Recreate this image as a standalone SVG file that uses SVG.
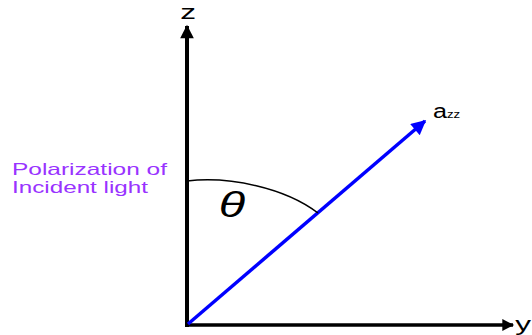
<svg xmlns="http://www.w3.org/2000/svg" width="532" height="335" viewBox="0 0 532 335">
<style>
.lbl{font-family:"Liberation Sans",Arial,sans-serif;fill:#000}
.purple{font-family:"Liberation Sans",Arial,sans-serif;fill:#9933ff;font-size:16.5px}
</style>
<defs>
<marker id="ah" viewBox="0 0 10 10" refX="9" refY="5" markerWidth="3.6" markerHeight="3.4" markerUnits="strokeWidth" orient="auto"><path d="M0,0 L10,5 L0,10 z" fill="#000"/></marker>
<marker id="ab" viewBox="0 0 10 10" refX="9" refY="5" markerWidth="4.5" markerHeight="4.2" markerUnits="strokeWidth" orient="auto"><path d="M0,0 L10,5 L0,10 z" fill="#0000ff"/></marker>
</defs>
<g id="connectors">
<line id="z-axis" x1="187" y1="327" x2="187" y2="26" stroke="#000" stroke-width="4" marker-end="url(#ah)"/>
<line id="y-axis" x1="185" y1="325" x2="513" y2="325" stroke="#000" stroke-width="3.5" marker-end="url(#ah)"/>
<line id="azz-vec" x1="188" y1="324" x2="425" y2="121" stroke="#0000ff" stroke-width="3.5" marker-end="url(#ab)"/>
<path id="angle-arc" d="M187,181 C230,176 285,188 318,213" fill="none" stroke="#000" stroke-width="1.5"/>
</g>
<g id="label-z"><text class="lbl" font-size="21" text-anchor="middle" transform="translate(188,19) scale(1.5,1)">z</text></g>
<g id="label-y"><text class="lbl" font-size="21" text-anchor="middle" transform="translate(523,331) scale(1.5,1)">y</text></g>
<g id="label-azz"><text class="lbl" font-size="21" transform="translate(433,118) scale(1.2,1)">a<tspan font-size="11">zz</tspan></text></g>
<g id="label-theta"><text class="lbl" font-size="36" font-style="italic" text-anchor="middle" transform="translate(232,217) scale(1.35,1)">θ</text></g>
<g id="label-polarization"><text class="purple" x="12" y="175" textLength="155" lengthAdjust="spacingAndGlyphs">Polarization of</text><text class="purple" x="12" y="193" textLength="136" lengthAdjust="spacingAndGlyphs">Incident light</text></g>
</svg>
